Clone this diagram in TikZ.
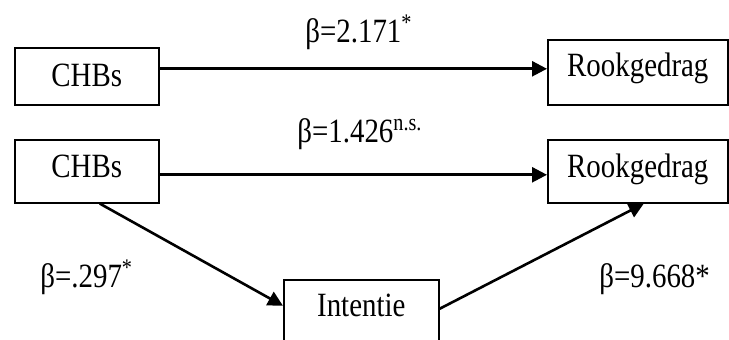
\documentclass[tikz,border=0pt]{standalone}
\usepackage{fontspec}
\setmainfont{Liberation Serif}[FakeStretch=0.85]
\usepackage{tikz}
\usetikzlibrary{arrows.meta, positioning}

\begin{document}
\begin{tikzpicture}[
    x=0.5pt, y=-0.5pt,
    font=\fontsize{17}{20}\selectfont, >=Latex,
    box/.style={draw=black, line width=0.8pt, inner sep=0pt, anchor=north west,
                align=center},
    coef/.style={anchor=base west, inner sep=0pt},
    arr/.style={-{Triangle[length=7.5pt, width=7.5pt]}, line width=1.3pt, draw=black}
]
\useasboundingbox (0,0) rectangle (729,340);

% --- Top model: direct path only.
\node[box, minimum width=72pt, text height=19.5pt, text depth=9pt]
    (chbsA) at (14,47)  {CHBs};
\node[box, minimum width=90pt, text height=18.5pt, text depth=14pt]
    (rookA) at (547,39) {Rookgedrag};

% --- Bottom model: direct path plus mediation through intention.
\node[box, minimum width=72pt, text height=19pt, text depth=12.5pt]
    (chbsB) at (14,139)  {CHBs};
\node[box, minimum width=90pt, text height=19pt, text depth=12.5pt]
    (rookB) at (547,139) {Rookgedrag};
\node[box, minimum width=77.5pt, text height=18.5pt, text depth=17pt]
    (intent) at (283,279) {Intentie};

% --- Coefficients.
\node[coef] (bA)   at (305,43)  {β=2.171\textsuperscript{*}};
\node[coef] (bB)   at (297,143) {β=1.426\textsuperscript{n.s.}};
\node[coef] (bCI)  at (40,288)  {β=.297\textsuperscript{*}};
\node[coef] (bIR)  at (599,288) {β=9.668*};

% --- Paths.
\draw[arr] ([yshift=3.75pt]chbsA.east) -- ([yshift=1.75pt]rookA.west);
\draw[arr] ([yshift=-1.75pt]chbsB.east) -- ([yshift=-1.75pt]rookB.west);
\draw[arr] ([xshift=6.5pt]chbsB.south) -- ([yshift=4.75pt]intent.west);
\draw[arr] ([yshift=3.25pt]intent.east) -- ([xshift=3pt]rookB.south);

\end{tikzpicture}
\end{document}
